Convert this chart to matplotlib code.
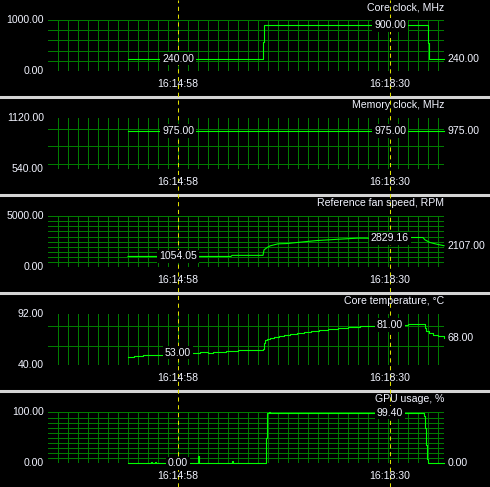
import matplotlib.pyplot as plt
from matplotlib.lines import Line2D

W, H = 490, 487
plt.rcParams['font.family'] = ['Liberation Sans', 'DejaVu Sans']

# time axis: seconds since 16:12:48 (left edge of the graphs)
cursor_labels = ['16:14:58', '16:18:30']
cursor_t = [130, 342]

titles = ['Core clock, MHz', 'Memory clock, MHz', 'Reference fan speed, RPM',
          'Core temperature, °C', 'GPU usage, %']
y_min = [0, 540, 0, 40, 0]
y_max = [1000, 1120, 5000, 92, 100]
grid_step = [200, 200, 500, 20, 10]

core_t = [80, 215, 216, 380, 381, 396]
core_v = [240, 570, 900, 550, 240, 240]

mem_t = [80, 396]
mem_v = [975, 975]

fan_t = [80, 183, 184, 215, 216, 219, 222, 230, 239, 259, 270, 292, 310, 342,
         362, 375, 377, 382, 389, 396]
fan_v = [1054, 1054, 1160, 1160, 1690, 1920, 2090, 2290, 2320, 2520, 2620, 2750,
         2850, 2829, 2910, 2910, 2680, 2420, 2250, 2107]

temp_t = [80, 86, 95, 104, 110, 116, 124, 140, 152, 160, 165, 178, 190, 205,
          215, 216, 217, 219, 222, 226, 231, 236, 242, 249, 256, 263, 271, 280,
          290, 300, 312, 326, 333, 345, 360, 376, 377, 378, 381, 385, 390, 396]
temp_v = [48, 49, 50, 50, 51, 52, 53, 53, 54, 53, 54, 55, 56, 56,
          57, 63, 66, 67, 68, 69, 70, 71, 72, 73, 74, 75, 76, 77,
          78, 79, 80, 80, 81, 81, 82, 82, 78, 75, 73, 71, 70, 68]

gpu_t = [80, 103, 104, 107, 108, 150, 151, 184, 185, 218, 219, 221, 222,
         376, 377, 378, 379, 380, 381, 396]
gpu_v = [0, 2, 0, 2, 0, 14, 0, 5, 0, 50, 99.4, 100, 99.4,
         92, 69, 37, 8, 0, 0, 0]

series_t = [core_t, mem_t, fan_t, temp_t, gpu_t]
series_v = [core_v, mem_v, fan_v, temp_v, gpu_v]
styles = ['steps-post', 'default', 'default', 'steps-post', 'steps-post']

cursor_vals = [[240.00, 900.00], [975.00, 975.00], [1054.05, 2829.16],
               [53.00, 81.00], [0.00, 99.40]]
last_vals = [240.00, 975.00, 2107.00, 68.00, 0.00]

GRID = '#007c00'
LINE = '#00ff00'
TXT = '#f2f4ff'
FS = 7.6

fig = plt.figure(figsize=(W / 100, H / 100), dpi=100, facecolor='black')


def fx(x):
    return x / W


def fy(y):
    return 1 - y / H


left, right = 48, 444
for i in range(5):
    top = 20 + 98.1 * i
    bot = top + 51
    ax = fig.add_axes([fx(left), fy(bot), fx(right - left), (bot - top) / H])
    ax.set_facecolor('black')
    ax.set_xlim(0, 396)
    ax.set_ylim(y_min[i], y_max[i])
    ax.axis('off')

    # grid
    for t in range(10, 396, 10):
        ax.axvline(t, color=GRID, lw=0.72, zorder=1)
    ax.axvline(395.5, color=GRID, lw=0.72, zorder=1)
    g = ((y_min[i] + grid_step[i] - 1) // grid_step[i]) * grid_step[i]
    while g <= y_max[i]:
        ax.axhline(g, color=GRID, lw=0.72, zorder=1)
        g += grid_step[i]

    ax.plot(series_t[i], series_v[i], color=LINE, lw=0.8,
            drawstyle=styles[i], zorder=2, clip_on=False)

    # min / max labels
    ax.annotate(f'{y_max[i]:.2f}', (0, y_max[i]), xycoords=('axes fraction', 'data'),
                xytext=(-3, 0), textcoords='offset points', ha='right', va='center',
                color=TXT, fontsize=FS)
    ax.annotate(f'{y_min[i]:.2f}', (0, y_min[i]), xycoords=('axes fraction', 'data'),
                xytext=(-3, 0), textcoords='offset points', ha='right', va='center',
                color=TXT, fontsize=FS)

    # title and time labels
    fig.text(fx(right), fy(top - 13), titles[i], ha='right', va='center',
             color=TXT, fontsize=FS, zorder=3)
    for c in range(2):
        fig.text(fx(left + cursor_t[c]), fy(bot + 13), cursor_labels[c],
                 ha='center', va='center', color=TXT, fontsize=FS, zorder=3)
        fig.text(cursor_t[c], cursor_vals[i][c], f'{cursor_vals[i][c]:.2f}',
                 transform=ax.transData, ha='center', va='center', color=TXT,
                 fontsize=FS, zorder=4,
                 bbox=dict(facecolor='black', edgecolor='none', pad=1.2))

    # current value at the right
    ax.annotate(f'{last_vals[i]:.2f}', (1, last_vals[i]), xycoords=('axes fraction', 'data'),
                xytext=(2.5, 0), textcoords='offset points', ha='left', va='center',
                color=TXT, fontsize=FS)

# separators between graphs
for i in range(4):
    y = 97.3 + 97.8 * i
    fig.add_artist(Line2D([0, 1], [fy(y), fy(y)], color='#d4d4d4', lw=2.2, zorder=1))

# cursor lines
for c in range(2):
    x = fx(left + cursor_t[c])
    fig.add_artist(Line2D([x, x], [0, 1], color='#e0e000', lw=0.75,
                          dashes=(4, 3.5), zorder=2))

fig.savefig('out.png', dpi=100, facecolor='black')
